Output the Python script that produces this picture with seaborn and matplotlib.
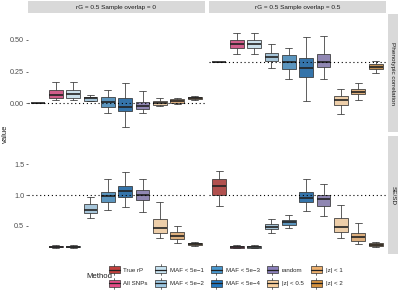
import numpy as np
import pandas as pd
import matplotlib
matplotlib.use("Agg")
import matplotlib.pyplot as plt
import seaborn as sns
from matplotlib.patches import Rectangle
from matplotlib.lines import Line2D
from matplotlib.legend_handler import HandlerBase

# ---------------- data (five-number summaries) ----------------
methods = ["True rP", "All SNPs", "MAF < 5e\u22121", "MAF < 5e\u22122", "MAF < 5e\u22123",
           "MAF < 5e\u22124", "random", "|z| < 0.5", "|z| < 1", "|z| < 2"]
colors = ["#C1403D", "#E34A86", "#C6E2F0", "#9DC7E2", "#4A98CF",
          "#2176BE", "#8B80BA", "#F8CF9E", "#EDB06E", "#D4913F"]
columns = ["rG = 0.5 Sample overlap = 0", "rG = 0.5 Sample overlap = 0.5"]
rows = ["Phenotypic correlation", "SE/SD"]

# (low whisker, q1, median, q3, high whisker) per method
pheno_overlap0 = [
    (0.0, 0.0, 0.0, 0.0, 0.0),
    (0.026, 0.04, 0.066, 0.105, 0.17),
    (0.03, 0.045, 0.07, 0.105, 0.17),
    (0.015, 0.02, 0.04, 0.052, 0.065),
    (-0.079, -0.027, 0.013, 0.052, 0.105),
    (-0.185, -0.06, -0.027, 0.045, 0.158),
    (-0.079, -0.047, -0.021, 0.013, 0.10),
    (-0.02, -0.016, 0.002, 0.018, 0.04),
    (-0.005, 0.0, 0.017, 0.034, 0.045),
    (0.03, 0.034, 0.044, 0.052, 0.058),
]
pheno_overlap05 = [
    (0.325, 0.325, 0.325, 0.325, 0.325),
    (0.387, 0.439, 0.47, 0.50, 0.557),
    (0.387, 0.439, 0.465, 0.50, 0.557),
    (0.281, 0.334, 0.363, 0.394, 0.468),
    (0.192, 0.27, 0.323, 0.381, 0.439),
    (0.02, 0.21, 0.276, 0.355, 0.52),
    (0.192, 0.289, 0.328, 0.389, 0.531),
    (-0.087, -0.016, 0.026, 0.058, 0.11),
    (0.026, 0.071, 0.092, 0.11, 0.158),
    (0.237, 0.268, 0.289, 0.308, 0.334),
]
sesd_overlap0 = [
    None,
    (0.145, 0.155, 0.166, 0.178, 0.19),
    (0.145, 0.155, 0.166, 0.178, 0.19),
    (0.624, 0.705, 0.758, 0.85, 0.973),
    (0.758, 0.892, 0.984, 1.054, 1.253),
    (0.80, 0.973, 1.065, 1.15, 1.366),
    (0.73, 0.92, 1.0, 1.08, 1.26),
    (0.30, 0.382, 0.462, 0.608, 0.89),
    (0.23, 0.285, 0.339, 0.398, 0.50),
    (0.175, 0.19, 0.21, 0.23, 0.245),
]
sesd_overlap05 = [
    (0.83, 1.0, 1.15, 1.253, 1.387),
    (0.145, 0.152, 0.165, 0.178, 0.19),
    (0.145, 0.152, 0.165, 0.178, 0.19),
    (0.392, 0.446, 0.49, 0.527, 0.608),
    (0.473, 0.516, 0.56, 0.597, 0.677),
    (0.747, 0.892, 0.946, 1.054, 1.253),
    (0.66, 0.828, 0.93, 1.0, 1.177),
    (0.30, 0.409, 0.49, 0.624, 0.84),
    (0.205, 0.258, 0.317, 0.392, 0.553),
    (0.165, 0.177, 0.20, 0.22, 0.235),
]
ref_lines = {(0, 0): 0.0, (0, 1): 0.325, (1, 0): 1.0, (1, 1): 1.0}
yticks = [[0.0, 0.25, 0.5], [0.5, 1.0, 1.5]]
yticklabels = [["0.00", "0.25", "0.50"], ["0.5", "1.0", "1.5"]]
ylims = [(-0.226, 0.705), (0.048, 1.952)]

panels = {(0, 0): pheno_overlap0, (0, 1): pheno_overlap05,
          (1, 0): sesd_overlap0, (1, 1): sesd_overlap05}

records = []
for (r, c), summ in panels.items():
    for m, s in zip(methods, summ):
        if s is None:
            continue
        for v in s:
            records.append({"row": r, "col": c, "Method": m, "value": v})
df = pd.DataFrame(records)

# ---------------- plotting ----------------
sns.set_theme(style="white")
plt.rcParams["font.family"] = ["Liberation Sans", "DejaVu Sans"]

W, H = 400, 295
fig = plt.figure(figsize=(W / 100, H / 100), dpi=100)

def px_axes(x0, y0, x1, y1):
    return fig.add_axes([x0 / W, (H - y1) / H, (x1 - x0) / W, (y1 - y0) / H])

col_x = [(28, 205), (209, 386)]
row_y = [(14, 132), (136, 254)]
edge = "#333333"
palette = dict(zip(methods, colors))

for r in range(2):
    for c in range(2):
        ax = px_axes(col_x[c][0], row_y[r][0], col_x[c][1], row_y[r][1])
        sub = df[(df["row"] == r) & (df["col"] == c)]
        sns.boxplot(data=sub, x="Method", y="value", hue="Method", order=methods,
                    hue_order=methods, palette=palette, whis=(0, 100), width=0.8,
                    linewidth=0.55, linecolor=edge, showfliers=False, legend=False,
                    medianprops=dict(linewidth=1.2, color="#222222"), ax=ax)
        ax.axhline(ref_lines[(r, c)], color="black", linestyle=(0, (1, 2.5)),
                   linewidth=0.8, zorder=10)
        ax.set_xlim(-0.6, len(methods) - 0.4)
        ax.set_ylim(*ylims[r])
        ax.set_xlabel("")
        ax.set_ylabel("")
        ax.set_xticks([])
        ax.set_yticks(yticks[r])
        if c == 0:
            ax.set_yticklabels(yticklabels[r])
            ax.tick_params(axis="y", left=True, length=1.6, width=0.5, color="#333333",
                           labelsize=5.2, labelcolor="#4D4D4D", pad=1.2)
        else:
            ax.set_yticklabels([])
            ax.tick_params(axis="y", left=False)
        for sp in ax.spines.values():
            sp.set_visible(False)
        ax.set_facecolor("white")

# facet strips
strip_col = "#D9D9D9"
for c in range(2):
    sax = px_axes(col_x[c][0], 1, col_x[c][1], 13)
    sax.add_patch(Rectangle((0, 0), 1, 1, transform=sax.transAxes, color=strip_col))
    sax.text(0.5, 0.5, columns[c], ha="center", va="center", fontsize=4.6, color="#1A1A1A")
    sax.set_axis_off()
for r in range(2):
    sax = px_axes(388, row_y[r][0], 398, row_y[r][1])
    sax.add_patch(Rectangle((0, 0), 1, 1, transform=sax.transAxes, color=strip_col))
    sax.text(0.5, 0.5, rows[r], ha="center", va="center", fontsize=4.6,
             color="#1A1A1A", rotation=-90)
    sax.set_axis_off()

fig.text(5 / W, 1 - 134 / H, "value", rotation=90, ha="center", va="center",
         fontsize=5.5, color="#1A1A1A")

# legend
class BoxHandler(HandlerBase):
    def create_artists(self, legend, orig_handle, xdescent, ydescent, width, height,
                       fontsize, trans):
        fc = orig_handle.get_facecolor()
        x0, y0 = -xdescent, -ydescent
        w, h = width, height
        wh = Line2D([x0 + w / 2] * 2, [y0 - 0.3 * h, y0 + 1.3 * h], color=edge,
                    lw=0.5, transform=trans)
        bx = Rectangle((x0 + 0.05 * w, y0 + 0.05 * h), 0.9 * w, 0.9 * h, facecolor=fc,
                       edgecolor=edge, lw=0.5, transform=trans)
        md = Line2D([x0 + 0.05 * w, x0 + 0.95 * w], [y0 + h / 2] * 2, color="#222222",
                    lw=0.9, transform=trans)
        return [wh, bx, md]

handles = [Rectangle((0, 0), 1, 1, facecolor=col) for col in colors]
leg = fig.legend(handles, methods, ncol=5, loc="center left",
                 bbox_to_anchor=(108 / W, 1 - 276.5 / H), frameon=False,
                 fontsize=4.4, handler_map={Rectangle: BoxHandler()},
                 handlelength=2.0, handleheight=1.4, handletextpad=0.5,
                 columnspacing=1.1, labelspacing=1.1, borderpad=0, borderaxespad=0)
fig.text(86 / W, 1 - 277 / H, "Method", ha="left", va="center", fontsize=5.6,
         color="#1A1A1A")

fig.savefig("out.png", dpi=100, facecolor="white")
